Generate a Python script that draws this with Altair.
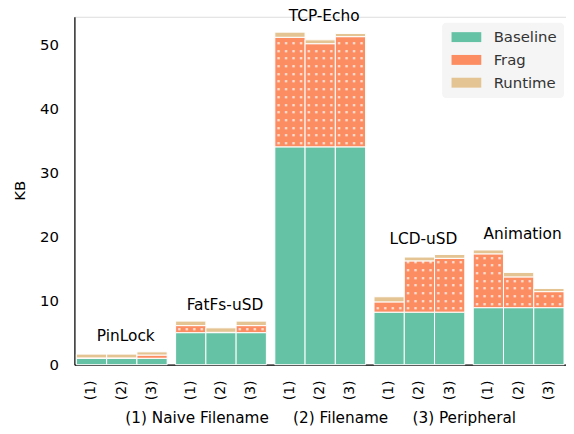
import altair as alt
import pandas as pd

groups = ["PinLock", "FatFs-uSD", "TCP-Echo", "LCD-uSD", "Animation"]
variants = ["(1)", "(2)", "(3)"]
series = ["Baseline", "Frag", "Runtime"]
colors = ["#66c2a5", "#fc8d62", "#e5c494"]

baseline = [[1.0, 1.0, 1.0], [5.0, 5.0, 5.0], [34.0, 34.0, 34.0], [8.2, 8.2, 8.2], [8.9, 8.9, 8.9]]
frag = [[0.05, 0.05, 0.5], [1.1, 0.05, 1.1], [17.1, 16.1, 17.2], [1.6, 8.0, 8.4], [8.4, 4.8, 2.5]]
runtime = [[0.6, 0.6, 0.5], [0.7, 0.7, 0.7], [0.8, 0.6, 0.5], [0.8, 0.6, 0.6], [0.6, 0.7, 0.5]]

xtitle = "(1) Naive Filename\u00a0\u00a0\u00a0\u00a0\u00a0(2) Filename\u00a0\u00a0\u00a0\u00a0\u00a0(3) Peripheral"

rows, wide = [], []
for gi, g in enumerate(groups):
    for vi, v in enumerate(variants):
        vals = [baseline[gi][vi], frag[gi][vi], runtime[gi][vi]]
        for si, s in enumerate(series):
            rows.append(dict(group=g, variant=v, series=s, ord=si, kb=vals[si]))
        wide.append(dict(group=g, variant=v, base=vals[0], frag=vals[1], total=sum(vals)))
long_df = pd.DataFrame(rows)
wide_df = pd.DataFrame(wide)
top_df = wide_df.groupby("group", sort=False)["total"].max().reset_index()

X = alt.X("group:N", sort=groups,
          scale=alt.Scale(paddingInner=0.085, paddingOuter=0.02),
          axis=alt.Axis(labels=False, ticks=False, domainColor="black", domainWidth=1.2,
                        title=xtitle, titleFontSize=15.4, titleFontWeight="normal",
                        titleColor="black", titleY=58, titleBaseline="alphabetic"))
XO = alt.XOffset("variant:N", sort=variants, scale=alt.Scale(paddingInner=0, paddingOuter=0))
yscale = alt.Scale(domain=[0, 54.3], nice=False)
yaxis = alt.Axis(values=[0, 10, 20, 30, 40, 50], ticks=False, grid=False, labelPadding=16,
                 labelFontSize=15, labelColor="black", domainColor="black", domainWidth=1.2,
                 title="KB", titleFontSize=15, titleFontWeight="normal", titleColor="black",
                 titleX=-55, titleY=175, titleAngle=270, titleAlign="center",
                 titleBaseline="middle")

bars = alt.Chart(long_df).mark_bar(stroke="white", strokeWidth=1).encode(
    x=X, xOffset=XO,
    y=alt.Y("kb:Q", stack="zero", scale=yscale, axis=yaxis),
    color=alt.Color("series:N", scale=alt.Scale(domain=series, range=colors),
                    legend=alt.Legend(title=None, orient="none", legendX=371, legendY=6,
                                      fillColor="#f5f5f5", padding=7, cornerRadius=4,
                                      symbolType="M-1,-1L5,-1L5,1L-1,1Z",
                                      symbolSize=100, symbolStrokeWidth=0,
                                      labelFontSize=15, labelColor="#333333",
                                      labelOffset=30, rowPadding=7)),
    order=alt.Order("ord:Q"),
)

dot_layers = []
for off in [-11.4, -3.8, 3.8, 11.4]:
    dot_layers.append(
        alt.Chart(wide_df)
        .transform_calculate(dots="sequence(datum.base + 0.6, datum.base + datum.frag - 0.1, 1.2)")
        .transform_flatten(["dots"])
        .mark_text(text="\u25a0", fontSize=3, dx=off, align="center", baseline="middle",
                   color="white", opacity=0.7)
        .encode(x=X, xOffset=XO, y=alt.Y("dots:Q", scale=yscale, axis=yaxis))
    )

labels = alt.Chart(top_df).mark_text(baseline="bottom", dy=-8, dx=4, fontSize=15.5, color="black").encode(
    x=X, y=alt.Y("total:Q", scale=yscale, axis=yaxis), text="group:N"
)

ticks = alt.Chart(wide_df).mark_text(angle=270, align="center", baseline="middle",
                                      fontSize=14, color="black").encode(
    x=X, xOffset=XO, y=alt.value(377), text="variant:N"
)

chart = alt.layer(bars, *dot_layers, labels, ticks).properties(
    width=496, height=351,
    autosize=alt.AutoSizeParams(type="none"),
    padding={"left": 67, "top": 7, "right": 0, "bottom": 60},
).configure_view(stroke=None).configure(font="DejaVu Sans")

chart.save("out.html", embed_options={"renderer": "svg", "actions": False})
